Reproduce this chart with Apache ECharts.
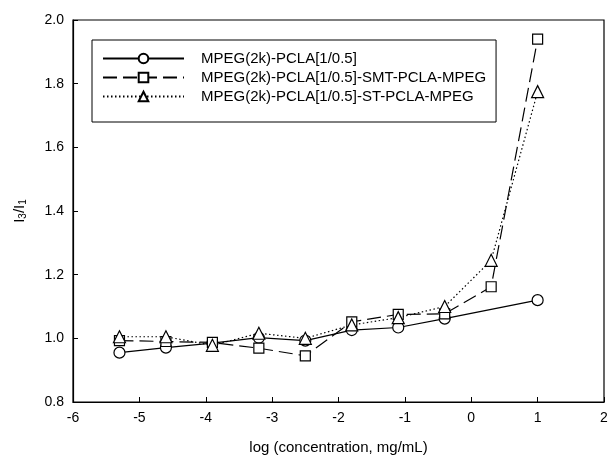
<!DOCTYPE html>
<html>
<head>
<meta charset="utf-8">
<script src="https://cdn.jsdelivr.net/npm/echarts@6/dist/echarts.min.js"></script>
<style>
  html, body { margin: 0; padding: 0; background: #fff; }
  #chart { width: 611px; height: 460px; }
</style>
</head>
<body>
<div id="chart"></div>
<script>
// log (concentration, mg/mL)
const logConc = [-5.3, -4.6, -3.9, -3.2, -2.5, -1.8, -1.1, -0.4, 0.3, 1.0];
// I3/I1 ratios (null = no point drawn)
const ratioPlain = [0.955, 0.971, 0.985, 1.002, 0.993, 1.026, 1.034, 1.062, null, 1.12];
const ratioSMT = [0.993, 0.990, 0.987, 0.969, 0.945, 1.052, 1.075, 1.077, 1.162, 1.94];
const ratioST = [1.005, 1.005, 0.978, 1.016, 1.0, 1.042, 1.065, 1.10, 1.245, 1.775];
const seriesNames = [
  "MPEG(2k)-PCLA[1/0.5]",
  "MPEG(2k)-PCLA[1/0.5]-SMT-PCLA-MPEG",
  "MPEG(2k)-PCLA[1/0.5]-ST-PCLA-MPEG"
];
const xTicks = [-6, 2, 1];      // min, max, interval
const yTicks = [0.8, 2.0, 0.2];

const FONT = "'Liberation Sans', Arial, sans-serif";

function pairs(ys) {
  return logConc.map((x, i) => [x, ys[i]]);
}

// one line series, all black with white-filled markers
function makeSeries(name, ys, symbol, dash, size) {
  return {
    name: name,
    type: "line",
    data: pairs(ys),
    connectNulls: true,
    symbol: symbol,
    symbolSize: size,
    showAllSymbol: true,
    lineStyle: { color: "#000", width: 1.2, type: dash },
    itemStyle: { color: "#fff", borderColor: "#000", borderWidth: 1.2 },
    emphasis: { disabled: true },
    animation: false
  };
}

const chart = echarts.init(document.getElementById("chart"), null, { renderer: "canvas" });

chart.setOption({
  backgroundColor: "#fff",
  textStyle: { fontFamily: FONT, color: "#000" },
  grid: {
    left: 73, right: 7, top: 20, bottom: 56,
    show: true, borderColor: "#000", borderWidth: 1.2
  },
  legend: {
    left: 92, top: 40,
    orient: "vertical",
    padding: [11, 10, 18, 10],
    itemWidth: 81, itemHeight: 12, itemGap: 4,
    borderColor: "#000", borderWidth: 1,
    textStyle: { fontFamily: FONT, fontSize: 15, lineHeight: 15, color: "#000", padding: [0, 0, 0, 12] },
    data: seriesNames
  },
  xAxis: {
    type: "value",
    min: xTicks[0], max: xTicks[1], interval: xTicks[2],
    name: "log (concentration, mg/mL)",
    nameLocation: "middle",
    nameGap: 38,
    nameTextStyle: { fontFamily: FONT, fontSize: 15, color: "#000" },
    axisLine: { onZero: false, lineStyle: { color: "#000", width: 1.2 } },
    axisTick: { inside: true, length: 5, lineStyle: { color: "#000" } },
    axisLabel: { fontFamily: FONT, fontSize: 14, color: "#000", margin: 9 },
    splitLine: { show: false }
  },
  yAxis: {
    type: "value",
    min: yTicks[0], max: yTicks[1], interval: yTicks[2],
    name: "I{s|3}/I{s|1}",
    nameLocation: "middle",
    nameGap: 45,
    nameRotate: 90,
    nameTextStyle: {
      fontFamily: FONT, fontSize: 15, color: "#000",
      rich: { s: { fontFamily: FONT, fontSize: 10, color: "#000", verticalAlign: "bottom", padding: [7, 0, 0, 0] } }
    },
    axisLine: { onZero: false, lineStyle: { color: "#000", width: 1.2 } },
    axisTick: { inside: true, length: 5, lineStyle: { color: "#000" } },
    axisLabel: {
      fontFamily: FONT, fontSize: 14, color: "#000", margin: 9,
      formatter: v => v.toFixed(1)
    },
    splitLine: { show: false }
  },
  series: [
    makeSeries(seriesNames[0], ratioPlain, "circle", "solid", 11),
    makeSeries(seriesNames[1], ratioSMT, "rect", [14, 6], 10),
    makeSeries(seriesNames[2], ratioST, "triangle", [1.5, 2.5], 12)
  ]
});
</script>
</body>
</html>
